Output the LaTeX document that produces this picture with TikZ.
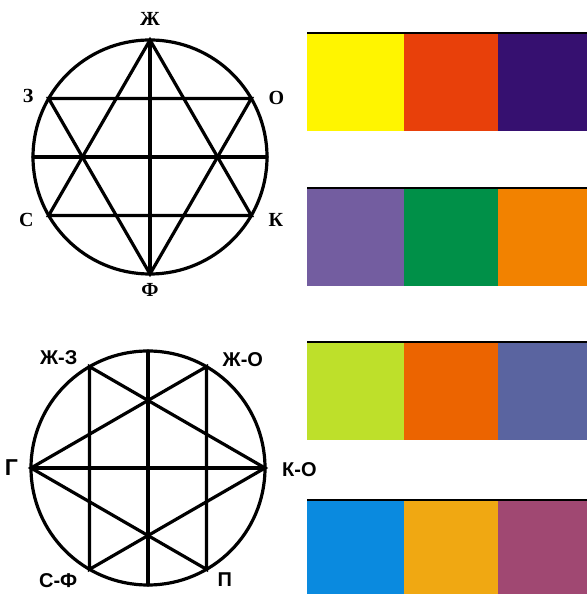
\documentclass[tikz,border=0pt]{standalone}
\usepackage{fontspec}
\setmainfont{Liberation Serif}
\setsansfont{Liberation Sans}
\usepackage{xcolor}
\usepackage{tikz}
\usetikzlibrary{positioning}
\definecolor{zheltyj}{HTML}{FFF500}
\definecolor{krasnyj}{HTML}{E8400A}
\definecolor{fioletovyj}{HTML}{361070}
\definecolor{sirenevyj}{HTML}{735DA0}
\definecolor{zelenyj}{HTML}{009048}
\definecolor{oranzhevyj}{HTML}{F28200}
\definecolor{salatovyj}{HTML}{BEE02A}
\definecolor{morkovnyj}{HTML}{EC6400}
\definecolor{indigo}{HTML}{5A64A0}
\definecolor{goluboj}{HTML}{0A8ADF}
\definecolor{yantarnyj}{HTML}{F0A812}
\definecolor{purpurnyj}{HTML}{A04872}
\tikzset{
  wheel/.style={circle,draw,line width=3.2pt,minimum size=234pt,
                inner sep=0pt,outer sep=0pt},
  chord/.style={line width=3.2pt,line cap=round},
  tlbl/.style={font=\fontsize{20}{20}\selectfont\bfseries,inner sep=0pt},
  blbl/.style={font=\fontsize{20}{20}\selectfont\sffamily\bfseries,inner sep=0pt},
  swatch/.style={rectangle,fill=#1,minimum height=98pt,minimum width=97pt,
                 inner sep=0pt,outer sep=0pt,anchor=north west},
  rim/.style={line width=1.8pt},
}

\begin{document}
\begin{tikzpicture}[x=1pt,y=1pt]
      \useasboundingbox (0,0) rectangle (587,594);

      % --- upper wheel ---
      \node[wheel] (wa) at (150,437) {};
      \draw[chord] (wa.90) -- (wa.210) -- (wa.330) -- cycle;
      \draw[chord] (wa.270) -- (wa.150) -- (wa.30) -- cycle;
      \draw[chord] (wa.90) -- (wa.270);
      \draw[chord] (wa.180) -- (wa.0);

      \node[tlbl, above=14pt of wa.90] (zh) {Ж};
      \node[tlbl, left=15pt of wa.150, yshift=3pt] (z) {З};
      \node[tlbl, right=17pt of wa.30, yshift=1pt] (o) {О};
      \node[tlbl, left=15pt of wa.210, yshift=-4pt] (s) {С};
      \node[tlbl, right=17pt of wa.330, yshift=-4pt] (k) {К};
      \node[tlbl, below=9pt of wa.270] (f) {Ф};

      % --- lower wheel ---
      \node[wheel] (wb) at (148,126) {};
      \draw[chord] (wb.180) -- (wb.60) -- (wb.300) -- cycle;
      \draw[chord] (wb.0) -- (wb.120) -- (wb.240) -- cycle;
      \draw[chord] (wb.90) -- (wb.270);
      \draw[chord] (wb.180) -- (wb.0);

      \node[blbl, above left=2pt and 12pt of wb.120] (zhz) {Ж-З};
      \node[blbl, above right=0pt and 16pt of wb.60] (zho) {Ж-О};
      \node[blbl, font=\fontsize{23}{23}\selectfont\sffamily\bfseries,
            left=13pt of wb.180] (g) {Г};
      \node[blbl, right=17pt of wb.0, yshift=-2pt] (ko) {К-О};
      \node[blbl, below left=4pt and 12pt of wb.240] (sf) {С-Ф};
      \node[blbl, below right=3pt and 11pt of wb.300] (p) {П};

      % --- colour bars ---
      \node[swatch=zheltyj] (s11) at (307,561) {};
      \node[swatch=krasnyj, minimum width=94pt, right=0pt of s11] (s12) {};
      \node[swatch=fioletovyj, minimum width=89pt, right=0pt of s12] (s13) {};
      \draw[rim] (s11.north west) -- (s13.north east);

      \node[swatch=sirenevyj] (s21) at (307,406) {};
      \node[swatch=zelenyj, minimum width=94pt, right=0pt of s21] (s22) {};
      \node[swatch=oranzhevyj, minimum width=89pt, right=0pt of s22] (s23) {};
      \draw[rim] (s21.north west) -- (s23.north east);

      \node[swatch=salatovyj] (s31) at (307,252) {};
      \node[swatch=morkovnyj, minimum width=94pt, right=0pt of s31] (s32) {};
      \node[swatch=indigo, minimum width=89pt, right=0pt of s32] (s33) {};
      \draw[rim] (s31.north west) -- (s33.north east);

      \node[swatch=goluboj] (s41) at (307,94) {};
      \node[swatch=yantarnyj, minimum width=94pt, right=0pt of s41] (s42) {};
      \node[swatch=purpurnyj, minimum width=89pt, right=0pt of s42] (s43) {};
      \draw[rim] (s41.north west) -- (s43.north east);
\end{tikzpicture}
\end{document}
